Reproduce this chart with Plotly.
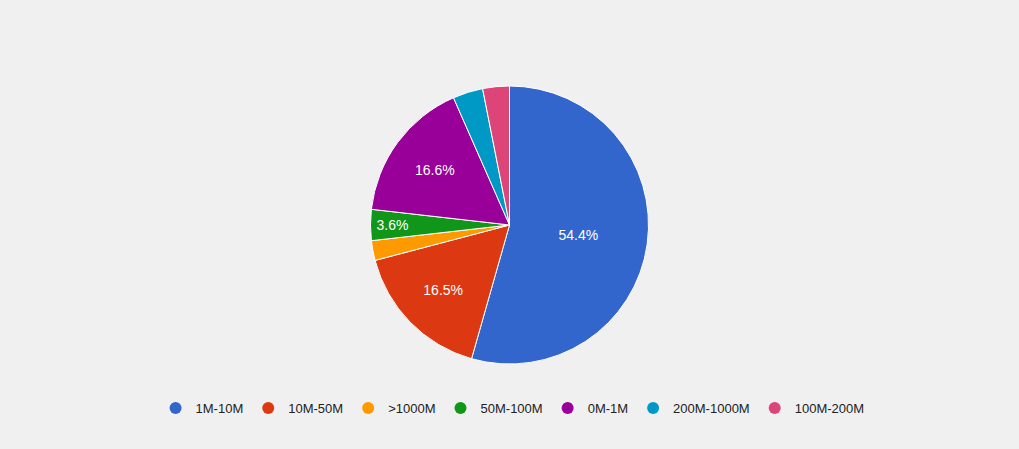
import plotly.graph_objects as go

# slice data, in drawing order (clockwise from 12 o'clock)
labels = ["1M-10M", "10M-50M", ">1000M", "50M-100M", "0M-1M", "200M-1000M", "100M-200M"]
values = [54.4, 16.5, 2.3, 3.6, 16.6, 3.5, 3.1]
colors = ["#3366cc", "#dc3912", "#ff9900", "#109618", "#990099", "#0099c6", "#dd4477"]
shown = [True, True, False, True, True, False, False]  # slices that carry a label

fig = go.Figure()

fig.add_trace(go.Pie(
    labels=labels,
    values=values,
    sort=False,
    direction="clockwise",
    rotation=0,
    marker=dict(colors=colors, line=dict(color="white", width=1)),
    texttemplate=["%{percent:.1%}" if s else "" for s in shown],
    textposition="inside",
    insidetextorientation="horizontal",
    textfont=dict(color="white", size=14, family="Liberation Sans, Arial"),
    hoverinfo="label+percent",
    showlegend=False,
    domain=dict(x=[0, 1], y=[0.1893, 0.8085]),
))

# circle markers for the legend, one per slice
for lab, col in zip(labels, colors):
    fig.add_trace(go.Scatter(
        x=[None], y=[None], mode="markers", name=lab,
        marker=dict(color=col, size=12, symbol="circle"),
    ))

fig.update_layout(
    width=1019, height=449,
    margin=dict(l=0, r=0, t=0, b=0),
    paper_bgcolor="#f0f0f0",
    plot_bgcolor="#f0f0f0",
    font=dict(family="Liberation Sans, Arial", size=13, color="#222222"),
    xaxis=dict(visible=False),
    yaxis=dict(visible=False),
    legend=dict(
        orientation="h", x=0.503, xanchor="center", y=0.0913, yanchor="middle",
        font=dict(size=13, color="#222222"), itemsizing="trace",
        bgcolor="rgba(0,0,0,0)",
    ),
)

fig.write_html(
    "out.html",
    config={"displayModeBar": False},
    post_script="document.body.style.margin='0';document.body.style.background='#f0f0f0';",
)
